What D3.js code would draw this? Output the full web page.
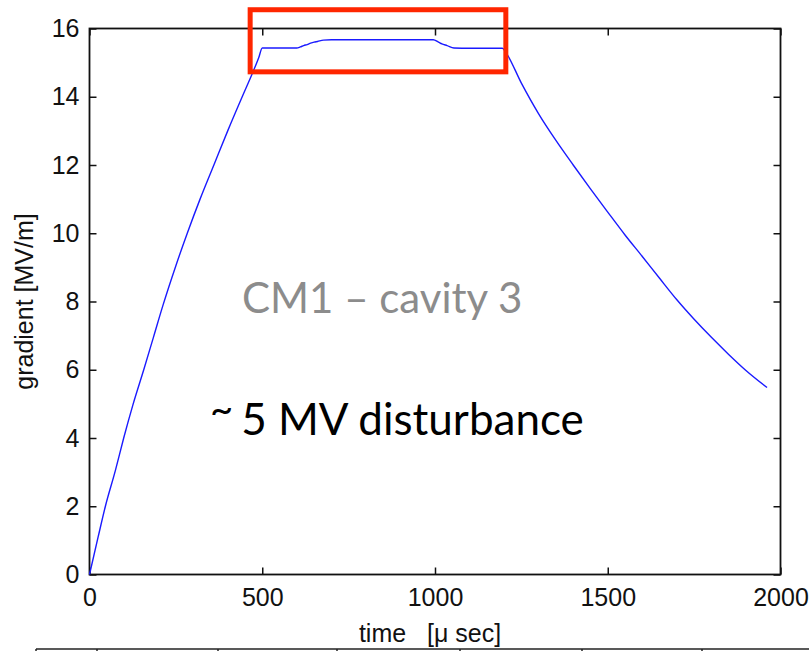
<!DOCTYPE html>
<html>
<head>
<meta charset="utf-8">
<script src="https://cdn.jsdelivr.net/npm/d3@7"></script>
<style>
  html, body { margin: 0; padding: 0; background: #fff; }
  svg { display: block; }
  .tick text { font-family: "Liberation Sans", Arial, sans-serif; font-size: 25px; fill: #111; }
</style>
</head>
<body>
<svg id="chart" width="809" height="651"></svg>
<script>
// ---- data ----
const timeUs = [0, 25, 46, 75, 99, 125, 157, 185, 213, 250, 283, 320, 360, 400, 442, 470, 490, 500,
  520, 600, 610, 620, 630, 640, 650, 660, 677, 700, 800, 900, 995, 1010, 1020, 1035, 1055, 1100, 1195,
  1205, 1250, 1300, 1350, 1400, 1450, 1500, 1550, 1600, 1650, 1700, 1750, 1800, 1850, 1900, 1961];
const gradient = [0, 1.1, 2.0, 3.05, 4.0, 4.95, 6.0, 6.95, 7.9, 9.05, 10.0, 11.0, 12.0, 13.0, 14.0, 14.65, 15.15, 15.43,
  15.43, 15.43, 15.46, 15.5, 15.53, 15.57, 15.6, 15.62, 15.66, 15.67, 15.67, 15.67, 15.67, 15.6, 15.55, 15.5, 15.43, 15.42, 15.42,
  15.3, 14.4, 13.5, 12.72, 12.0, 11.3, 10.62, 9.95, 9.32, 8.68, 8.05, 7.48, 6.95, 6.45, 5.98, 5.48];
const xTicks = [0, 500, 1000, 1500, 2000];
const yTicks = [0, 2, 4, 6, 8, 10, 12, 14, 16];
const xDomain = [0, 2000];
const yDomain = [0, 16];
const highlightBox = { t0: 465, t1: 1205, g0: 14.73, g1: 16.55 }; // red box, in data units
const xLabel = "time   [\u03bc sec]";
const yLabel = "gradient [MV/m]";
const note1 = "CM1 \u2013 cavity 3";
const note2 = "5 MV disturbance";

// ---- layout ----
const L = 89.5, R = 780.5, T = 28.5, B = 574.5;
const svg = d3.select("#chart");
const x = d3.scaleLinear().domain(xDomain).range([L, R]);
const y = d3.scaleLinear().domain(yDomain).range([B, T]);
const fmt = d3.format("d");

// axes (ticks inside, MATLAB style box)
const tickLen = 7;
svg.append("g").attr("transform", `translate(0,${B})`)
  .call(d3.axisBottom(x).tickValues(xTicks).tickFormat(fmt).tickSizeInner(-tickLen).tickSizeOuter(0).tickPadding(14))
  .call(g => g.select(".domain").remove());
svg.append("g").attr("transform", `translate(${L},0)`)
  .call(d3.axisLeft(y).tickValues(yTicks).tickFormat(fmt).tickSizeInner(-tickLen).tickSizeOuter(0).tickPadding(10))
  .call(g => g.select(".domain").remove());
svg.append("g").attr("transform", `translate(0,${T})`)
  .call(d3.axisTop(x).tickValues(xTicks).tickSizeInner(-tickLen).tickSizeOuter(0).tickFormat(""))
  .call(g => g.select(".domain").remove());
svg.append("g").attr("transform", `translate(${R},0)`)
  .call(d3.axisRight(y).tickValues(yTicks).tickSizeInner(-tickLen).tickSizeOuter(0).tickFormat(""))
  .call(g => g.select(".domain").remove());
svg.selectAll(".tick line").attr("stroke", "#111").attr("stroke-width", 1.5);
svg.selectAll(".tick text").attr("fill", "#111");

svg.append("rect").attr("x", L).attr("y", T).attr("width", R - L).attr("height", B - T)
  .attr("fill", "none").attr("stroke", "#111").attr("stroke-width", 1.8);

// curve
const pts = timeUs.map((t, i) => [t, gradient[i]]);
svg.append("path").datum(pts)
  .attr("fill", "none").attr("stroke", "#1a1aff").attr("stroke-width", 1.4)
  .attr("d", d3.line().curve(d3.curveMonotoneX).x(d => x(d[0])).y(d => y(d[1])));

// highlight box
svg.append("rect")
  .attr("x", x(highlightBox.t0)).attr("y", y(highlightBox.g1))
  .attr("width", x(highlightBox.t1) - x(highlightBox.t0))
  .attr("height", y(highlightBox.g0) - y(highlightBox.g1))
  .attr("fill", "none").attr("stroke", "#ff2600").attr("stroke-width", 5);

// axis labels
svg.append("text").attr("x", (L + R) / 2 - 5).attr("y", 642)
  .attr("text-anchor", "middle").style("white-space", "pre")
  .attr("font-family", "Liberation Sans, Arial, sans-serif").attr("font-size", 25).attr("fill", "#111")
  .text(xLabel);
svg.append("text").attr("transform", `translate(33,${(T + B) / 2}) rotate(-90)`)
  .attr("text-anchor", "middle")
  .attr("font-family", "Liberation Sans, Arial, sans-serif").attr("font-size", 25).attr("fill", "#111")
  .text(yLabel);

// annotations
svg.append("text").attr("x", 242).attr("y", 313)
  .attr("font-family", "Lato, 'Open Sans', sans-serif").attr("font-size", 42).attr("fill", "#8c8c8c")
  .text(note1);
const t2 = svg.append("text").attr("x", 210).attr("y", 435)
  .attr("font-family", "Lato, 'Open Sans', sans-serif").attr("font-size", 44).attr("fill", "#000");
t2.append("tspan").attr("dy", -12).attr("font-size", 40).text("~");
t2.append("tspan").attr("dy", 12).attr("dx", 8).text(note2);

// table border fragment at bottom of slide
const sep = [36, 97, 218, 337, 460, 582, 702];
svg.append("line").attr("x1", 36).attr("x2", 809).attr("y1", 649).attr("y2", 649)
  .attr("stroke", "#222").attr("stroke-width", 1.5);
svg.selectAll(".sep").data(sep).enter().append("line")
  .attr("x1", d => d).attr("x2", d => d).attr("y1", 649).attr("y2", 651)
  .attr("stroke", "#222").attr("stroke-width", 1.5);
</script>
</body>
</html>
